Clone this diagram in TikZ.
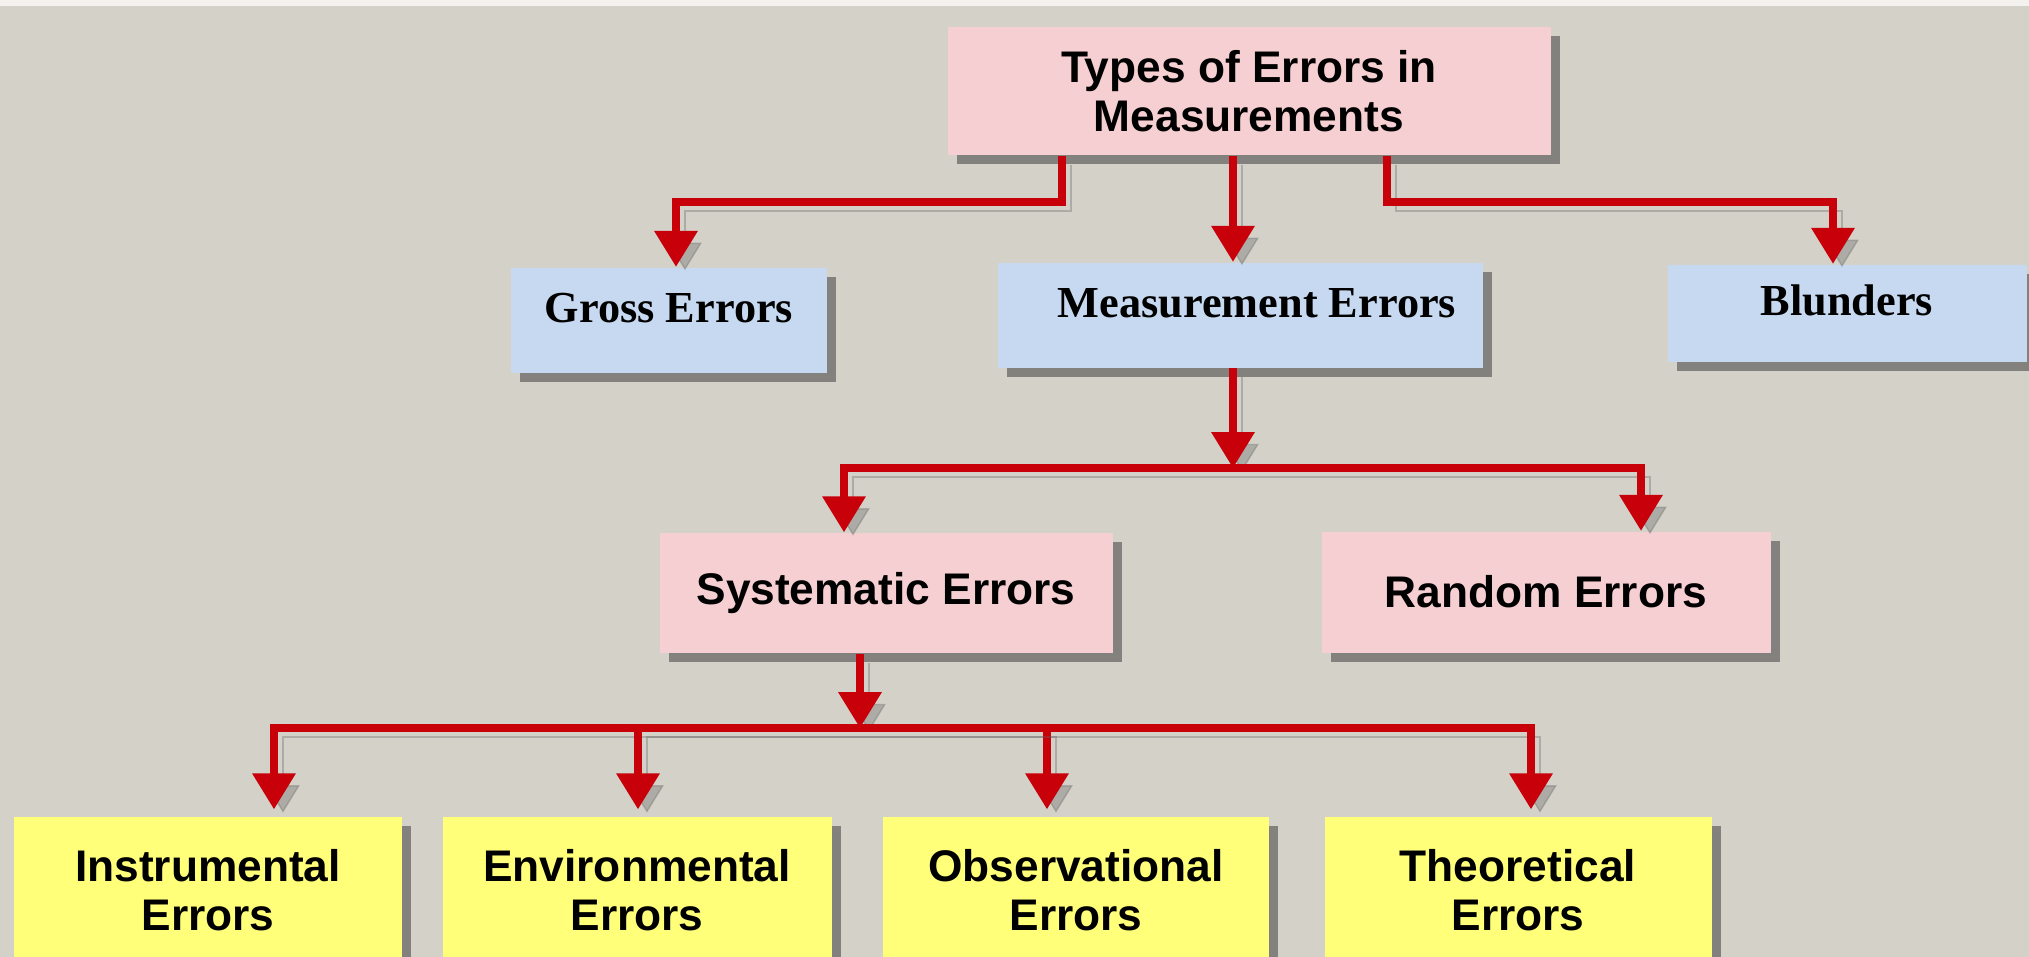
\documentclass[tikz,border=0pt]{standalone}
\usepackage{fontspec}
\setmainfont{Liberation Serif}
\setsansfont{Liberation Sans}
\usetikzlibrary{arrows.meta,shadows}
\definecolor{bgstone}{HTML}{D4D1C9}
\definecolor{topstrip}{HTML}{F3F2EF}
\definecolor{boxpink}{HTML}{F6CFD2}
\definecolor{boxblue}{HTML}{C6D9F0}
\definecolor{boxyellow}{HTML}{FFFF7A}
\definecolor{errred}{HTML}{C8000A}

\begin{document}
\begin{tikzpicture}
  [x = 0.1mm, y = -0.1mm, >= {Triangle[width=4.2mm,length=3.6mm]},
   box/.style = {inner sep=0pt, align=center,
     drop shadow={shadow xshift=.9mm, shadow yshift=-.9mm, opacity=.55, fill=black!75}},
   pinkbox/.style = {box, fill=boxpink, font=\fontsize{12.6}{14}\selectfont\bfseries\sffamily},
   yellowbox/.style = {box, fill=boxyellow, font=\fontsize{12.6}{14}\selectfont\bfseries\sffamily},
   bluebox/.style = {box, fill=boxblue, text height=3.2mm, text depth=2.66mm,
     font=\fontsize{12.6}{14}\selectfont\bfseries\rmfamily},
   conn/.style = {draw=errred, line width=2pt, ->,
     preaction={draw=black!60, opacity=.35, transform canvas={xshift=.9mm, yshift=-.9mm}}}]
  \path[use as bounding box] (0,0) rectangle (2029,957);
  \clip (0,0) rectangle (2029,957);
  \fill[bgstone] (0,0) rectangle (2029,957);
  \fill[topstrip] (0,0) rectangle (2029,6);

  \node[pinkbox, minimum width=60.3mm, minimum height=12.8mm] (types) at (1249,91) {Types of Errors in\\Measurements};
  \node[bluebox, minimum width=31.6mm, minimum height=10.5mm] (gross) at (669,320) {Gross Errors};
  \node[bluebox, minimum width=48.5mm, minimum height=10.5mm] (meas) at (1240,315) {\hspace*{3.4mm}Measurement Errors};
  \node[bluebox, minimum width=35.9mm, minimum height=9.7mm] (blund) at (1847,313) {Blunders};
  \node[pinkbox, minimum width=45.3mm, minimum height=12mm] (sys) at (886,593) {Systematic Errors};
  \node[pinkbox, minimum width=44.9mm, minimum height=12.1mm] (rand) at (1546,592) {Random Errors};
  \node[yellowbox, minimum width=38.8mm, minimum height=14.6mm] (inst) at (208,890) {Instrumental\\Errors};
  \node[yellowbox, minimum width=38.9mm, minimum height=14.6mm] (env) at (637,890) {Environmental\\Errors};
  \node[yellowbox, minimum width=38.6mm, minimum height=14.6mm] (obs) at (1076,890) {Observational\\Errors};
  \node[yellowbox, minimum width=38.7mm, minimum height=14.6mm] (theo) at (1518,890) {Theoretical\\Errors};

  \coordinate (grossbend) at (676,202);
  \coordinate (measdrop) at (1233,0);
  \coordinate (blundbend) at (1833,202);
  \coordinate (measfork) at (1233,468);
  \coordinate (sysbend) at (844,468);
  \coordinate (randbend) at (1641,468);
  \coordinate (sysfork) at (860,728);

  \draw[conn] ([xshift=-18.7mm]types.south) |- (grossbend) -- (gross.north -| grossbend);
  \draw[conn] (types.south -| measdrop) -- (meas.north -| measdrop);
  \draw[conn] ([xshift=13.8mm]types.south) |- (blundbend) -- (blund.north -| blundbend);
  \draw[conn] (meas.south -| measfork) -- (measfork);
  \draw[conn] (measfork) -| (sys.north -| sysbend);
  \draw[conn] (measfork) -| (rand.north -| randbend);
  \draw[conn] (sys.south -| sysfork) -- (sysfork);
  \foreach \n/\x in {inst/274, env/638, obs/1047, theo/1531} {
    \coordinate (\n bend) at (\x,728);
    \draw[conn, shorten >=.7mm] (sysfork) -| (\n.north -| \n bend);
  }
\end{tikzpicture}
\end{document}
